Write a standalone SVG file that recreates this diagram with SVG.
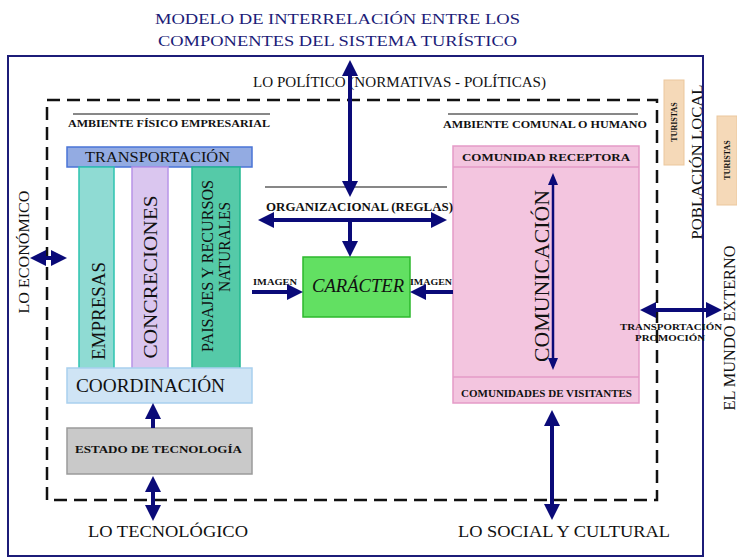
<svg xmlns="http://www.w3.org/2000/svg" width="737" height="557" viewBox="0 0 737 557">
<style>
.t{font-family:"Liberation Serif","Times New Roman",serif;fill:#111}
.b{font-weight:bold}
.nv{fill:#1c1c78}
.ln{stroke:#0a0a78;stroke-width:4;fill:none}
.th{stroke:#0a0a78;stroke-width:2.5;fill:none}
</style>
<defs>
<marker id="a" viewBox="0 0 16 16" markerUnits="userSpaceOnUse" markerWidth="16" markerHeight="16" refX="6" refY="8" orient="auto-start-reverse"><path d="M0,0 L16,8 L0,16 z" fill="#0a0a78"/></marker>
<marker id="s" viewBox="0 0 12 10" markerUnits="userSpaceOnUse" markerWidth="12" markerHeight="10" refX="4" refY="5" orient="auto-start-reverse"><path d="M0,0 L12,5 L0,10 z" fill="#0a0a78"/></marker>
</defs>
<rect width="737" height="557" fill="#fff"/>
<g id="title">
<text class="t nv" x="155" y="24" font-size="15" textLength="365" lengthAdjust="spacingAndGlyphs">MODELO DE INTERRELACIÓN ENTRE LOS</text>
<text class="t nv" x="158" y="46" font-size="15" textLength="359" lengthAdjust="spacingAndGlyphs">COMPONENTES DEL SISTEMA TURÍSTICO</text>
</g>
<g id="frame">
<rect x="8" y="56" width="695" height="500" fill="none" stroke="#1c1c78" stroke-width="2"/>
<rect x="47" y="100" width="610" height="400" fill="none" stroke="#111" stroke-width="2.5" stroke-dasharray="13 7"/>
</g>
<g id="transportacion">
<rect x="67" y="147" width="185" height="20" fill="#93abe2" stroke="#4a74d6" stroke-width="1.5"/>
<text class="t" x="85" y="162" font-size="15" textLength="145" lengthAdjust="spacingAndGlyphs">TRANSPORTACIÓN</text>
</g>
<g id="empresas">
<rect x="79" y="167" width="35" height="202" fill="#8fdbd3" stroke="#2ec4b0" stroke-width="1.5"/>
<text class="t" font-size="19" text-anchor="middle" transform="translate(105,311) rotate(-90)" textLength="98" lengthAdjust="spacingAndGlyphs">EMPRESAS</text>
</g>
<g id="concreciones">
<rect x="132" y="167" width="36" height="202" fill="#dac6ef" stroke="#b894e8" stroke-width="1.5"/>
<text class="t" font-size="19" text-anchor="middle" transform="translate(157,277) rotate(-90)" textLength="163" lengthAdjust="spacingAndGlyphs">CONCRECIONES</text>
</g>
<g id="paisajes">
<rect x="192" y="167" width="48" height="202" fill="#55caa8" stroke="#22b890" stroke-width="1.5"/>
<text class="t" font-size="16" text-anchor="middle" transform="translate(213,266) rotate(-90)" textLength="172" lengthAdjust="spacingAndGlyphs">PAISAJES Y RECURSOS</text>
<text class="t" font-size="16" text-anchor="middle" transform="translate(230,247) rotate(-90)" textLength="90" lengthAdjust="spacingAndGlyphs">NATURALES</text>
</g>
<g id="coordinacion">
<rect x="67" y="368" width="185" height="35" fill="#cfe4f5" stroke="#a9d0ee" stroke-width="1.5"/>
<text class="t" x="76" y="392" font-size="18" textLength="149" lengthAdjust="spacingAndGlyphs">COORDINACIÓN</text>
</g>
<g id="estado">
<rect x="67" y="428" width="185" height="46" fill="#c9c9c9" stroke="#9a9a9a" stroke-width="1.5"/>
<text class="t b" x="75" y="453" font-size="11" textLength="167" lengthAdjust="spacingAndGlyphs">ESTADO DE TECNOLOGÍA</text>
</g>
<g id="caracter">
<rect x="303" y="257" width="107" height="60" fill="#62e062" stroke="#2db82d" stroke-width="1.5"/>
<text class="t" x="312" y="292" font-size="18" font-style="italic" textLength="92" lengthAdjust="spacingAndGlyphs">CARÁCTER</text>
</g>
<g id="comunidad">
<rect x="453" y="146" width="186" height="257" fill="#f3c5df" stroke="#e59ac7" stroke-width="1.5"/>
<line x1="453" y1="167" x2="639" y2="167" stroke="#e59ac7" stroke-width="1.5"/>
<line x1="453" y1="377" x2="639" y2="377" stroke="#e59ac7" stroke-width="1.5"/>
<text class="t b" x="462" y="161" font-size="11" textLength="168" lengthAdjust="spacingAndGlyphs">COMUNIDAD RECEPTORA</text>
<text class="t b" x="461" y="397" font-size="9.5" textLength="171" lengthAdjust="spacingAndGlyphs">COMUNIDADES DE VISITANTES</text>
<text class="t" font-size="21" text-anchor="middle" transform="translate(549,276) rotate(-90)" textLength="172" lengthAdjust="spacingAndGlyphs">COMUNICACIÓN</text>
</g>
<g id="turistas1">
<rect x="664" y="80" width="20" height="85" fill="#f5d9b8" stroke="#ebc79d" stroke-width="1"/>
<text class="t b" font-size="8" text-anchor="middle" transform="translate(677,122) rotate(-90)">TURISTAS</text>
</g>
<g id="turistas2">
<rect x="717" y="116" width="20" height="89" fill="#f5d9b8" stroke="#ebc79d" stroke-width="1"/>
<text class="t b" font-size="8" text-anchor="middle" transform="translate(730,160) rotate(-90)">TURISTAS</text>
</g>
<g id="labels">
<text class="t" x="253" y="87" font-size="14" textLength="293" lengthAdjust="spacingAndGlyphs">LO POLÍTICO (NORMATIVAS - POLÍTICAS)</text>
<line x1="73" y1="114" x2="270" y2="114" stroke="#111" stroke-width="1"/>
<text class="t b" x="68" y="127" font-size="10.5" textLength="202" lengthAdjust="spacingAndGlyphs">AMBIENTE FÍSICO EMPRESARIAL</text>
<line x1="448" y1="114" x2="638" y2="114" stroke="#111" stroke-width="1"/>
<text class="t b" x="443" y="128" font-size="10.5" textLength="204" lengthAdjust="spacingAndGlyphs">AMBIENTE COMUNAL O HUMANO</text>
<text class="t" font-size="15" text-anchor="middle" transform="translate(29,252) rotate(-90)" textLength="123" lengthAdjust="spacingAndGlyphs">LO ECONÓMICO</text>
<text class="t" font-size="15" text-anchor="middle" transform="translate(702,162) rotate(-90)" textLength="155" lengthAdjust="spacingAndGlyphs">POBLACIÓN LOCAL</text>
<text class="t" font-size="16" text-anchor="middle" transform="translate(735,328) rotate(-90)" textLength="165" lengthAdjust="spacingAndGlyphs">EL MUNDO EXTERNO</text>
<text class="t" x="88" y="537" font-size="16" textLength="160" lengthAdjust="spacingAndGlyphs">LO TECNOLÓGICO</text>
<text class="t" x="458" y="537" font-size="16" textLength="212" lengthAdjust="spacingAndGlyphs">LO SOCIAL Y CULTURAL</text>
<text class="t b" x="266" y="211" font-size="11.5" textLength="187" lengthAdjust="spacingAndGlyphs">ORGANIZACIONAL (REGLAS)</text>
<text class="t b" x="253" y="285" font-size="8.5" textLength="44" lengthAdjust="spacingAndGlyphs">IMAGEN</text>
<text class="t b" x="410" y="285" font-size="8.5" textLength="42" lengthAdjust="spacingAndGlyphs">IMAGEN</text>
<text class="t b" x="620" y="330" font-size="9" textLength="102" lengthAdjust="spacingAndGlyphs">TRANSPORTACIÓN</text>
<text class="t b" x="635" y="341" font-size="9" textLength="70" lengthAdjust="spacingAndGlyphs">PROMOCIÓN</text>
</g>
<g id="connectors">
<line x1="265" y1="187" x2="447" y2="187" stroke="#111" stroke-width="1.2"/>
<line class="ln" x1="350" y1="70" x2="350" y2="187" marker-start="url(#a)" marker-end="url(#a)"/>
<line class="ln" x1="268" y1="220" x2="437" y2="220" marker-start="url(#a)" marker-end="url(#a)"/>
<line class="ln" x1="350" y1="220" x2="350" y2="247" marker-end="url(#a)"/>
<line class="ln" x1="252" y1="292" x2="293" y2="292" marker-end="url(#a)"/>
<line class="ln" x1="453" y1="292" x2="420" y2="292" marker-end="url(#a)"/>
<line class="ln" x1="153" y1="428" x2="153" y2="413" marker-end="url(#a)"/>
<line class="ln" x1="153" y1="486" x2="153" y2="511" marker-start="url(#a)" marker-end="url(#a)"/>
<line class="ln" x1="552" y1="420" x2="552" y2="510" marker-start="url(#a)" marker-end="url(#a)"/>
<line class="ln" x1="40" y1="258" x2="57" y2="258" marker-start="url(#a)" marker-end="url(#a)"/>
<line class="ln" x1="650" y1="310" x2="712" y2="310" marker-start="url(#a)" marker-end="url(#a)"/>
<line class="th" x1="553" y1="181" x2="553" y2="362" marker-start="url(#s)" marker-end="url(#s)"/>
</g>
</svg>
